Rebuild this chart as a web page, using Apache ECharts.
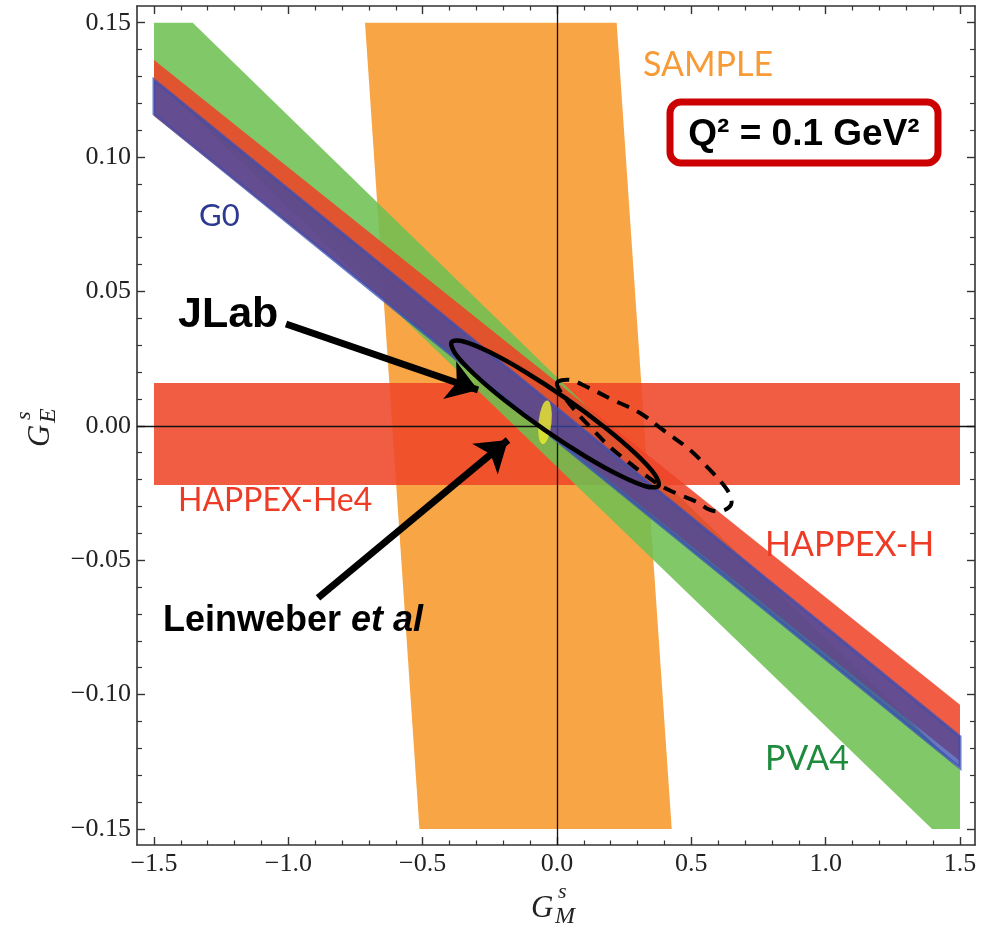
<!DOCTYPE html>
<html><head><meta charset="utf-8">
<script src="https://cdn.jsdelivr.net/npm/echarts@6/dist/echarts.min.js"></script>
<style>html,body{margin:0;padding:0;background:#fff}#c{width:981px;height:931px}</style>
</head><body><div id="c"></div>
<script>
// ---- axis ticks & labels ----
const xTickValues = [-1.5, -1.0, -0.5, 0.0, 0.5, 1.0, 1.5];
const xTickLabels = ['\u22121.5', '\u22121.0', '\u22120.5', '0.0', '0.5', '1.0', '1.5'];
const xMinorTicks = [-1.4,-1.3,-1.2,-1.1,-0.9,-0.8,-0.7,-0.6,-0.4,-0.3,-0.2,-0.1,0.1,0.2,0.3,0.4,0.6,0.7,0.8,0.9,1.1,1.2,1.3,1.4];
const yTickValues = [-0.15, -0.10, -0.05, 0.00, 0.05, 0.10, 0.15];
const yTickLabels = ['\u22120.15', '\u22120.10', '\u22120.05', '0.00', '0.05', '0.10', '0.15'];
const yMinorTicks = [-0.14,-0.13,-0.12,-0.11,-0.09,-0.08,-0.07,-0.06,-0.04,-0.03,-0.02,-0.01,0.01,0.02,0.03,0.04,0.06,0.07,0.08,0.09,0.11,0.12,0.13,0.14];
const xRange = [-1.5633, 1.5558];
const yRange = [-0.15595, 0.15621];

// ---- experimental bands (G_M^s, G_E^s) ----
const sampleBand = [[-0.7146, 0.15], [0.222, 0.15], [0.427, -0.15], [-0.512, -0.15]];
const happexHe4Band = [[-1.5, 0.0159], [1.5, 0.0159], [1.5, -0.0220], [-1.5, -0.0220]];
const pva4Band = [[-1.5, 0.15], [-1.356, 0.15], [1.5, -0.1279], [1.5, -0.15], [1.396, -0.15], [-1.5, 0.1295]];
const happexHBand = [[-1.5, 0.1361], [1.5, -0.1038], [1.5, -0.1247], [-1.5, 0.1153]];
const g0Band = [[-1.5, 0.1287], [1.5, -0.1157], [1.5, -0.1272], [-1.5, 0.1160]];

// ---- JLab combined fit contours ----
const jlabContour = [
  [0.3774, -0.02232], [0.3327, -0.02255], [0.2363, -0.01860], [0.1031, -0.01120],
  [-0.0476, -0.00138], [-0.1924, 0.00934], [-0.3085, 0.01927], [-0.3789, 0.02694],
  [-0.3923, 0.03118], [-0.3476, 0.03140], [-0.2512, 0.02746], [-0.1180, 0.02005],
  [0.0331, 0.01023], [0.1775, -0.00048], [0.2936, -0.01042], [0.3640, -0.01808]
];
const jlabOldContour = [
  [0.0, 0.01596], [0.0484, 0.01708], [0.1116, 0.01447], [0.2084, 0.00964], [0.3089, 0.00480],
  [0.3945, -0.00153], [0.4950, -0.00897], [0.5694, -0.01641], [0.6141, -0.02125], [0.6439, -0.02571],
  [0.6476, -0.02943], [0.6141, -0.03166], [0.5694, -0.03129], [0.5210, -0.02832], [0.4578, -0.02571],
  [0.3945, -0.02274], [0.3275, -0.01827], [0.2605, -0.01306], [0.1972, -0.00785], [0.1340, -0.00153],
  [0.0782, 0.00443], [0.0298, 0.01038]
];
const leinweberPoint = [[-0.0447, 0.0013]];

// ---- annotation arrows ----
const jlabArrow = [[-1.0086, 0.0379], [-0.2940, 0.01336]];
const leinweberArrow = [[-0.8895, -0.0640], [-0.1824, -0.00525]];

function lookup(vals, labs, v) {
  const i = vals.findIndex(t => Math.abs(t - v) < 1e-9);
  return i < 0 ? '' : labs[i];
}

function bandSeries(name, pts, color, opacity, z, stroke) {
  return {
    name: name, type: 'custom', z: z, silent: true,
    xAxisIndex: 0, yAxisIndex: 0,
    data: pts,
    renderItem: function (params, api) {
      if (params.dataIndex !== 0) return null;
      const style = { fill: color, opacity: opacity };
      if (stroke) { style.stroke = stroke; style.lineWidth = 3; }
      return {
        type: 'polygon',
        shape: { points: pts.map(p => api.coord(p)) },
        style: style
      };
    }
  };
}
function contourSeries(name, pts, dash, z) {
  return {
    name: name, type: 'custom', z: z, silent: true,
    xAxisIndex: 0, yAxisIndex: 0,
    data: pts,
    renderItem: function (params, api) {
      if (params.dataIndex !== 0) return null;
      return {
        type: 'polygon',
        shape: { points: pts.map(p => api.coord(p)), smooth: 0.35 },
        style: { fill: 'none', stroke: '#000', lineWidth: dash ? 4 : 4.5, lineDash: dash ? [13, 9] : null }
      };
    }
  };
}

const axisCol = '#333';
const tickFont = { fontFamily: 'Liberation Serif', fontSize: 26, color: '#222' };

const option = {
  animation: false,
  backgroundColor: '#fff',
  grid: { left: 137, right: 6, top: 6, bottom: 86, containLabel: false },
  xAxis: [
    { type: 'value', position: 'bottom', min: xRange[0], max: xRange[1],
      axisLine: { show: true, onZero: false, lineStyle: { color: axisCol, width: 1.6 } },
      axisTick: { show: true, inside: true, length: 8, customValues: xTickValues, lineStyle: { color: axisCol, width: 1.4 } },
      axisLabel: Object.assign({ show: true, margin: 6, customValues: xTickValues,
        formatter: v => lookup(xTickValues, xTickLabels, v) }, tickFont),
      splitLine: { show: false } },
    { type: 'value', position: 'bottom', min: xRange[0], max: xRange[1],
      axisLine: { show: false, onZero: false },
      axisTick: { show: true, inside: true, length: 4.5, customValues: xMinorTicks, lineStyle: { color: axisCol, width: 1.2 } },
      axisLabel: { show: false }, splitLine: { show: false } },
    { type: 'value', position: 'top', min: xRange[0], max: xRange[1],
      axisLine: { show: true, onZero: false, lineStyle: { color: axisCol, width: 1.6 } },
      axisTick: { show: true, inside: true, length: 8, customValues: xTickValues, lineStyle: { color: axisCol, width: 1.4 } },
      axisLabel: { show: false }, splitLine: { show: false } },
    { type: 'value', position: 'top', min: xRange[0], max: xRange[1],
      axisLine: { show: false, onZero: false },
      axisTick: { show: true, inside: true, length: 4.5, customValues: xMinorTicks, lineStyle: { color: axisCol, width: 1.2 } },
      axisLabel: { show: false }, splitLine: { show: false } }
  ],
  yAxis: [
    { type: 'value', position: 'left', min: yRange[0], max: yRange[1],
      axisLine: { show: true, onZero: false, lineStyle: { color: axisCol, width: 1.6 } },
      axisTick: { show: true, inside: true, length: 8, customValues: yTickValues, lineStyle: { color: axisCol, width: 1.4 } },
      axisLabel: Object.assign({ show: true, margin: 6, customValues: yTickValues,
        formatter: v => lookup(yTickValues, yTickLabels, v) }, tickFont),
      splitLine: { show: false } },
    { type: 'value', position: 'left', min: yRange[0], max: yRange[1],
      axisLine: { show: false, onZero: false },
      axisTick: { show: true, inside: true, length: 5, customValues: yMinorTicks, lineStyle: { color: axisCol, width: 1.2 } },
      axisLabel: { show: false }, splitLine: { show: false } },
    { type: 'value', position: 'right', min: yRange[0], max: yRange[1],
      axisLine: { show: true, onZero: false, lineStyle: { color: axisCol, width: 1.6 } },
      axisTick: { show: true, inside: true, length: 8, customValues: yTickValues, lineStyle: { color: axisCol, width: 1.4 } },
      axisLabel: { show: false }, splitLine: { show: false } },
    { type: 'value', position: 'right', min: yRange[0], max: yRange[1],
      axisLine: { show: false, onZero: false },
      axisTick: { show: true, inside: true, length: 5, customValues: yMinorTicks, lineStyle: { color: axisCol, width: 1.2 } },
      axisLabel: { show: false }, splitLine: { show: false } }
  ],
  series: [
    bandSeries('SAMPLE', sampleBand, '#f8a546', 1, 1),
    bandSeries('HAPPEX-He4', happexHe4Band, '#ee4728', 0.88, 2),
    bandSeries('PVA4', pva4Band, '#6ec052', 0.87, 3),
    bandSeries('HAPPEX-H', happexHBand, '#ee4428', 0.87, 4),
    bandSeries('G0', g0Band, '#3347ab', 0.74, 5, '#3a4eb2'),
    { type: 'line', data: [], z: 6, silent: true,
      markLine: { silent: true, symbol: 'none', animation: false,
        label: { show: false },
        lineStyle: { color: '#111', width: 1.3, type: 'solid' },
        data: [{ xAxis: 0 }, { yAxis: 0 }] } },
    { type: 'scatter', z: 7, silent: true, data: leinweberPoint,
      symbol: 'circle', symbolSize: [13, 44], symbolRotate: -6,
      itemStyle: { color: '#eeee2a' } },
    contourSeries('JLab', jlabContour, false, 8),
    contourSeries('JLab prev', jlabOldContour, true, 8),
    { type: 'lines', coordinateSystem: 'cartesian2d', z: 9, silent: true,
      symbol: ['none', 'arrow'], symbolSize: 30,
      lineStyle: { color: '#000', width: 7, opacity: 1 },
      itemStyle: { color: '#000' },
      data: [{ coords: jlabArrow }, { coords: leinweberArrow }] }
  ],
  graphic: [
    { type: 'text', z: 20, style: { text: 'SAMPLE', x: 643, y: 65, textVerticalAlign: 'middle', font: '34px Lato', fill: '#f89a35' } },
    { type: 'text', z: 20, style: { text: 'G0', x: 199, y: 216, textVerticalAlign: 'middle', font: '31px Lato', fill: '#2b3990' } },
    { type: 'text', z: 20, style: { text: 'HAPPEX-He4', x: 178, y: 501, textVerticalAlign: 'middle', font: '32px Lato', fill: '#ee3b26' } },
    { type: 'text', z: 20, style: { text: 'HAPPEX-H', x: 765, y: 545, textVerticalAlign: 'middle', font: '34px Lato', fill: '#ee3b26' } },
    { type: 'text', z: 20, style: { text: 'PVA4', x: 765, y: 759, textVerticalAlign: 'middle', font: '34px Lato', fill: '#1e8b3d' } },
    { type: 'text', z: 20, style: { text: 'JLab', x: 178, y: 315, textVerticalAlign: 'middle', font: 'bold 43px "Liberation Sans"', fill: '#000' } },
    { type: 'text', z: 20, style: { text: '{b|Leinweber }{i|et al}', x: 163, y: 621, textVerticalAlign: 'middle',
        rich: { b: { font: 'bold 36px "Liberation Sans"', fill: '#000' }, i: { font: 'italic bold 36px "Liberation Sans"', fill: '#000' } } } },
    { type: 'rect', z: 20, shape: { x: 670, y: 102, width: 268, height: 61, r: 11 },
      style: { fill: '#fff', stroke: '#cc0000', lineWidth: 7 } },
    { type: 'text', z: 21, style: { text: 'Q\u00b2 = 0.1 GeV\u00b2', x: 804, y: 135, textAlign: 'center', textVerticalAlign: 'middle', font: 'bold 37px "Liberation Sans"', fill: '#000' } },
    // x axis title G_M^s
    { type: 'text', z: 20, style: { text: 'G', x: 531, y: 909, textVerticalAlign: 'middle', font: 'italic 31px "Liberation Serif"', fill: '#222' } },
    { type: 'text', z: 20, style: { text: 's', x: 558, y: 892, textVerticalAlign: 'middle', font: 'italic 22px "Liberation Serif"', fill: '#222' } },
    { type: 'text', z: 20, style: { text: 'M', x: 555, y: 917, textVerticalAlign: 'middle', font: 'italic 24px "Liberation Serif"', fill: '#222' } },
    // y axis title G_E^s (rotated)
    { type: 'group', x: 41, y: 447, rotation: Math.PI / 2, z: 20, children: [
      { type: 'text', style: { text: 'G', x: 0, y: 0, textVerticalAlign: 'middle', font: 'italic 31px "Liberation Serif"', fill: '#222' } },
      { type: 'text', style: { text: 's', x: 27, y: -17, textVerticalAlign: 'middle', font: 'italic 22px "Liberation Serif"', fill: '#222' } },
      { type: 'text', style: { text: 'E', x: 24, y: 8, textVerticalAlign: 'middle', font: 'italic 24px "Liberation Serif"', fill: '#222' } }
    ] }
  ]
};

const chart = echarts.init(document.getElementById('c'), null, { renderer: 'canvas' });
chart.setOption(option);
</script>
</body></html>
